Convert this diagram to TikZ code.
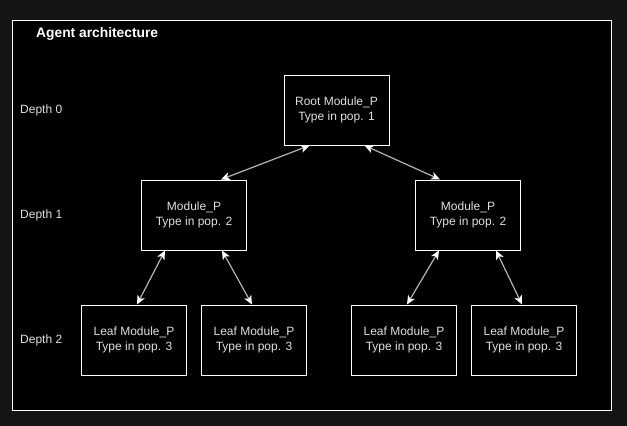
\documentclass[tikz,border=0pt]{standalone}
\usepackage{fontspec}
\setmainfont{Liberation Sans}
\usetikzlibrary{arrows.meta}
\definecolor{outerbg}{HTML}{141414}
\definecolor{txtgray}{HTML}{E0E0E0}
\definecolor{linegray}{HTML}{B4B4B4}
\begin{document}
\begin{tikzpicture}[x=1pt,y=-1pt,
  box/.style={draw=white,line width=1pt,fill=black,minimum width=105pt,minimum height=70pt,inner sep=0pt,
    text=txtgray,align=center,font=\fontsize{12}{15}\selectfont},
  lbl/.style={text=txtgray,anchor=west,inner sep=0pt,font=\fontsize{12}{14}\selectfont},
  link/.style={draw=linegray,line width=1.2pt,
    {Stealth[length=9pt,width=8pt,inset=2.5pt,fill=white,color=white]}-{Stealth[length=9pt,width=8pt,inset=2.5pt,fill=white,color=white]}}]
\fill[outerbg] (0,0) rectangle (627,426);
\useasboundingbox (0,0) rectangle (627,426);
\node[draw=white,line width=1pt,fill=black,minimum width=599pt,minimum height=390pt,inner sep=0pt] (frame) at (312,215) {};
\node[anchor=west,inner sep=0pt,text=white,font=\bfseries\fontsize{13.8}{16}\selectfont] (title) at (36,34) {Agent architecture};
\node[lbl] (d0) at (20,110) {Depth 0};
\node[lbl] (d1) at (20,215) {Depth 1};
\node[lbl] (d2) at (20,340) {Depth 2};
\node[box] (root) at (336.5,110) {Root Module\_P\\Type in pop. 1};
\node[box] (m1) at (194,215) {Module\_P\\Type in pop. 2};
\node[box] (m2) at (468,215) {Module\_P\\Type in pop. 2};
\node[box] (l1) at (134,340) {Leaf Module\_P\\Type in pop. 3};
\node[box] (l2) at (254,340) {Leaf Module\_P\\Type in pop. 3};
\node[box] (l3) at (404,340) {Leaf Module\_P\\Type in pop. 3};
\node[box] (l4) at (524,340) {Leaf Module\_P\\Type in pop. 3};
\draw[link] ([xshift=-27pt]root.south) -- ([xshift=27pt]m1.north);
\draw[link] ([xshift=28pt]root.south) -- ([xshift=-28pt]m2.north);
\draw[link] ([xshift=-29pt]m1.south) -- ([xshift=3pt]l1.north);
\draw[link] ([xshift=28pt]m1.south) -- ([xshift=-2pt]l2.north);
\draw[link] ([xshift=-29pt]m2.south) -- ([xshift=3pt]l3.north);
\draw[link] ([xshift=28pt]m2.south) -- ([xshift=-2pt]l4.north);
\end{tikzpicture}
\end{document}
